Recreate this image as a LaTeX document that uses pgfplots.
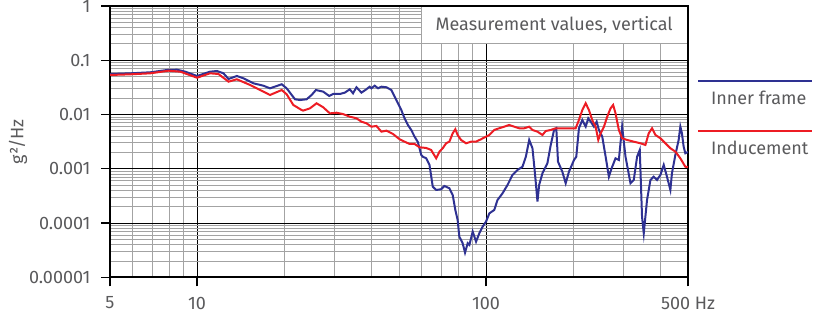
\documentclass[border=0pt]{standalone}
\usepackage{pgfplots}
\pgfplotsset{compat=1.18}
\usepackage{fontspec}
\setmainfont{Fira Sans}
\definecolor{txt}{HTML}{5A5A5C}
\definecolor{cblue}{HTML}{2E3192}
\definecolor{cred}{HTML}{ED1C24}
\definecolor{gridgray}{HTML}{A3A3A3}
\newcommand{\lblfont}{\fontsize{18}{21}\selectfont}
\begin{document}
\begin{tikzpicture}[x=1pt,y=1pt]
\useasboundingbox (0,0) rectangle (814,316);
\begin{axis}[
  at={(110pt,38.7pt)}, anchor=south west,
  scale only axis, width=578pt, height=271.3pt,
  xmode=log, ymode=log,
  xmin=5, xmax=500, ymin=1e-5, ymax=1,
  xtick={5,10,100,500}, xticklabels={5,10,100,500 Hz},
  minor xtick={6,7,8,9,20,30,40,50,60,70,80,90,200,300,400},
  ytick={1e-5,1e-4,1e-3,1e-2,1e-1,1},
  yticklabels={0.00001,0.0001,0.001,0.01,0.1,1},
  minor ytick={2e-5,3e-5,4e-5,5e-5,6e-5,7e-5,8e-5,9e-5,
    2e-4,3e-4,4e-4,5e-4,6e-4,7e-4,8e-4,9e-4,
    2e-3,3e-3,4e-3,5e-3,6e-3,7e-3,8e-3,9e-3,
    2e-2,3e-2,4e-2,5e-2,6e-2,7e-2,8e-2,9e-2,
    0.2,0.3,0.4,0.5,0.6,0.7,0.8,0.9},
  grid=both,
  major grid style={black, line width=1pt},
  minor grid style={gridgray, line width=0.9pt},
  axis line style={black, line width=2pt},
  major tick style={black, line width=1.3pt},
  major tick length=9pt, minor tick length=0pt,
  tick align=outside,
  xtick pos=bottom, ytick pos=left,
  xticklabel style={font=\lblfont, text=txt, yshift=-7pt},
  yticklabel style={font=\lblfont, text=txt, xshift=-7pt},
  ylabel={g²/Hz},
  ylabel style={font=\lblfont, text=txt, at={(axis description cs:-0.159,0.5)}, anchor=center},
  legend style={at={(rel axis cs:1.0329,0.6924)}, anchor=north west, draw=none, fill=none,
    inner sep=0pt, outer sep=0pt, font=\lblfont, text=txt, row sep=31pt,
    legend cell align=left},
  legend image code/.code={\draw[#1,overlay] (-10pt,17.5pt) -- (104pt,17.5pt); \path (0pt,0pt);},
]
\addplot[cblue, line width=2pt] coordinates {
(5.0,0.0558) (5.89,0.0575) (6.90,0.0600) (7.88,0.0662) (8.53,0.0670) (9.11,0.0616) (10,0.0513) (11.1,0.0616) (11.72,0.0634) (12.35,0.0575) (12.85,0.0452) (13.74,0.0513) (14.48,0.0465) (15.68,0.0376) (16.97,0.0340) (17.89,0.0304) (19.64,0.0361) (20.43,0.0304) (21.83,0.0191) (22.71,0.0185) (23.95,0.0191) (24.92,0.0229) (25.79,0.0283) (27.33,0.0264) (28.66,0.0220) (29.58,0.0239) (31.2,0.0239) (32.46,0.0253) (33.78,0.0292) (34.67,0.0246) (35.63,0.0318) (37.07,0.0253) (38.57,0.0292) (39.59,0.0326) (40.13,0.0304) (41.2,0.0340) (42.3,0.0304) (43.46,0.0326) (45.22,0.0318) (47.05,0.0283) (48.96,0.0185) (50.92,0.0121) (52.27,0.00852) (53.67,0.00642) (55.13,0.00519) (56.6,0.00391) (58.09,0.00312) (59.69,0.00180) (60.45,0.00167) (62.1,0.00156) (63.75,0.00118) (65.44,0.000468) (67.23,0.000407) (69.95,0.000419) (71.81,0.000482) (74.71,0.000437) (76.7,0.000329) (78.33,0.000174) (79.78,0.000114) (80.86,5.61e-5) (83.02,4.24e-5) (84.62,2.85e-5) (86.42,4.24e-5) (87.6,3.95e-5) (89.93,6.94e-5) (92.38,4.54e-5) (94.83,6.48e-5) (97.34,8.58e-5) (100,0.000106) (102.7,0.000151) (106.8,0.000174) (109.6,0.000266) (114.1,0.000354) (118.7,0.000503) (123.5,0.000769) (128.5,0.000951) (133.7,0.00109) (137.4,0.00167) (141.1,0.00340) (144.8,0.00239) (147.9,0.000769) (150.7,0.000248) (152.7,0.000503) (156.8,0.000827) (163.1,0.00126) (167.5,0.00275) (172.0,0.00519) (175.1,0.00558) (177.5,0.00135) (183.7,0.000885) (188.7,0.000541) (193.7,0.000885) (201.6,0.00145) (205.3,0.00167) (209.7,0.00558) (215.4,0.00793) (221.3,0.00597) (225.9,0.00852) (230.7,0.00729) (236.3,0.00597) (241.5,0.00738) (245.9,0.00519) (252.5,0.00391) (259.4,0.00167) (266.2,0.000715) (273.3,0.00109) (280.7,0.00156) (288.2,0.00145) (295.8,0.00597) (303.9,0.00167) (316.2,0.000541) (324.6,0.000622) (333.3,0.00167) (340.5,0.00222) (346.7,0.000131) (351.5,6.48e-5) (360.8,0.000266) (370.7,0.000622) (380.5,0.000715) (390.6,0.000622) (401.3,0.000769) (412.0,0.00118) (422.9,0.000715) (434.5,0.000407) (440.0,0.000827) (452.1,0.00180) (464.1,0.00340) (470.4,0.00597) (476.4,0.00451) (482.9,0.00256) (489.5,0.00193) (500,0.00204)
};
\addlegendentry{Inner frame}
\addplot[cred, line width=2pt] coordinates {
(5.0,0.0535) (5.89,0.0551) (6.90,0.0575) (7.98,0.0642) (8.76,0.0616) (10,0.0477) (11.1,0.0575) (11.87,0.0558) (12.85,0.0403) (13.74,0.0446) (15.27,0.0350) (16.53,0.0283) (17.89,0.0229) (19.64,0.0283) (20.43,0.0236) (21.54,0.0150) (23.02,0.0121) (23.31,0.0118) (24.59,0.0130) (25.93,0.0161) (27.33,0.0136) (28.83,0.0105) (30.4,0.0108) (32.0,0.0102) (33.78,0.00913) (35.63,0.00852) (37.07,0.00738) (38.57,0.00690) (40.13,0.00597) (41.77,0.00615) (43.46,0.00483) (45.22,0.00504) (47.65,0.00438) (50.23,0.00350) (52.27,0.00316) (54.39,0.00287) (56.6,0.00287) (58.88,0.00249) (62.1,0.00242) (64.6,0.00222) (67.23,0.00156) (69.02,0.00207) (70.84,0.00239) (72.79,0.00295) (74.71,0.00316) (76.7,0.00451) (78.33,0.00535) (79.78,0.00420) (81.96,0.00340) (85.31,0.00295) (88.8,0.00316) (92.38,0.00316) (96.1,0.00350) (100,0.00391) (102.7,0.00420) (106.8,0.00519) (111.1,0.00558) (115.6,0.00597) (120.3,0.00642) (125.2,0.00597) (130.3,0.00558) (135.6,0.00558) (141.1,0.00597) (144.8,0.00519) (150.7,0.00483) (156.8,0.00420) (161.0,0.00497) (167.5,0.00519) (174.3,0.00558) (183.7,0.00558) (193.7,0.00558) (204.3,0.00558) (209.7,0.00793) (215.4,0.0121) (221.3,0.0161) (227.1,0.0121) (233.1,0.00793) (239.5,0.00597) (244.6,0.00340) (249.3,0.00451) (255.9,0.00597) (262.7,0.00913) (269.8,0.0130) (275.4,0.0150) (280.7,0.0105) (288.2,0.00519) (295.8,0.00365) (307.8,0.00340) (324.6,0.00316) (342.4,0.00295) (356.2,0.00275) (365.7,0.00451) (375.4,0.00558) (385.7,0.00420) (401.3,0.00365) (417.6,0.00295) (434.5,0.00239) (452.1,0.00207) (470.4,0.00156) (489.5,0.00109) (500,0.00108)
};
\addlegendentry{Inducement}
\node[fill=white, inner sep=0pt, minimum width=265pt, minimum height=36pt,
  anchor=north east, text=txt, font=\lblfont] at ([xshift=-1.2pt,yshift=-1.2pt]rel axis cs:1,1)
  {Measurement values, vertical};
\end{axis}
\end{tikzpicture}
\end{document}
